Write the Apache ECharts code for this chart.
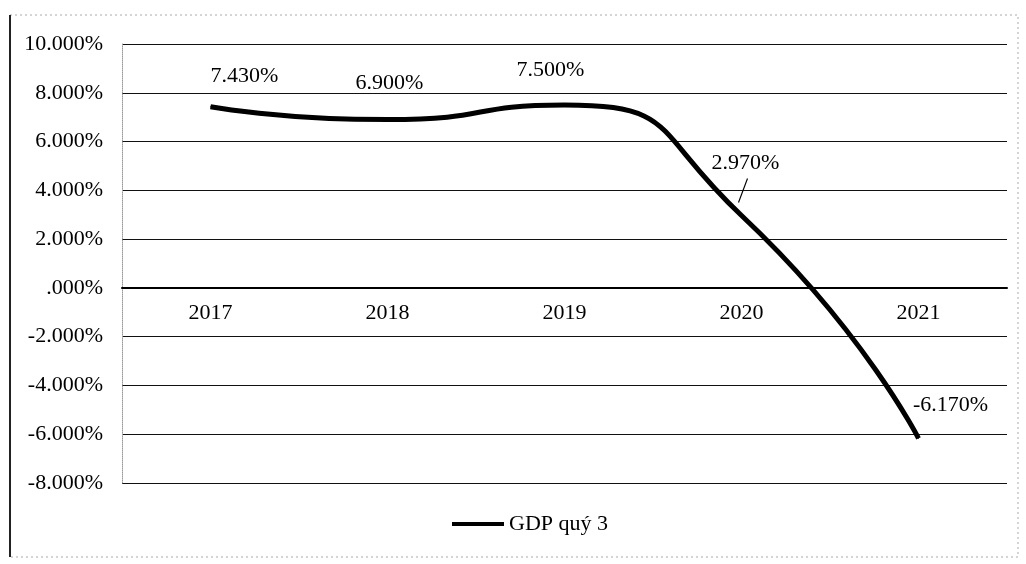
<!DOCTYPE html>
<html>
<head>
<meta charset="utf-8">
<script src="https://cdn.jsdelivr.net/npm/echarts@6/dist/echarts.min.js"></script>
<style>
html,body{margin:0;padding:0;background:#fff;}
#chart{width:1026px;height:564px;}
</style>
</head>
<body>
<div id="chart"></div>
<script>
// ---- data ----
var years = ['2017', '2018', '2019', '2020', '2021'];
var gdpQ3 = [7.43, 6.90, 7.50, 2.97, -6.17];
var seriesName = 'GDP quý 3';
var yTickValues = [-8, -6, -4, -2, 0, 2, 4, 6, 8, 10];
var yTickLabels = ['-8.000%', '-6.000%', '-4.000%', '-2.000%', '.000%', '2.000%', '4.000%', '6.000%', '8.000%', '10.000%'];

// ---- label placement (style only) ----
var labelOffsets = [[34, -14], [2, -20], [-14, -18], [4, -36], [-11, -33]];
var labelPositions = ['top', 'top', 'top', 'top', 'right'];
var FONT = 'Liberation Serif';
var FS = 22;

var dataItems = gdpQ3.map(function (v, i) {
  return { value: v, label: { position: labelPositions[i], offset: labelOffsets[i] } };
});

var frame = [
  { type: 'rect', shape: { x: 10, y: 15, width: 1008, height: 542 }, style: { fill: 'none', stroke: '#aaa', lineWidth: 1, lineDash: [2, 3] }, z: 0 },
  { type: 'line', shape: { x1: 10, y1: 15, x2: 10, y2: 557 }, style: { stroke: '#222', lineWidth: 2 }, z: 1 }
];

var chart = echarts.init(document.getElementById('chart'), null, { renderer: 'canvas' });
chart.setOption({
  backgroundColor: '#fff',
  animation: false,
  graphic: frame,
  grid: { left: 122, right: 19, top: 44, bottom: 81, containLabel: false },
  legend: {
    bottom: 24,
    left: 447,
    icon: 'rect',
    itemWidth: 52,
    itemHeight: 4,
    itemGap: 10,
    textStyle: { fontFamily: FONT, fontSize: FS, color: '#000' },
    data: [seriesName]
  },
  xAxis: {
    type: 'category',
    data: years,
    boundaryGap: true,
    offset: -195,
    axisLine: { onZero: false, lineStyle: { color: '#000', width: 2 } },
    axisTick: { show: false },
    axisLabel: { color: '#000', fontFamily: FONT, fontSize: FS, margin: 14 },
    splitLine: { show: false }
  },
  yAxis: {
    type: 'value',
    min: -8,
    max: 10,
    interval: 2,
    axisLine: { show: true, onZero: false, lineStyle: { color: '#999', width: 1, type: 'dotted' } },
    axisTick: { show: false },
    axisLabel: {
      color: '#000', fontFamily: FONT, fontSize: FS, margin: 19,
      formatter: function (v) {
        var idx = yTickValues.indexOf(Math.round(v));
        return idx >= 0 ? yTickLabels[idx] : '';
      }
    },
    splitLine: { show: true, lineStyle: { color: '#111', width: 1.2 } }
  },
  series: [{
    name: seriesName,
    type: 'line',
    data: dataItems,
    smooth: 0.6,
    symbol: 'circle',
    symbolSize: 1,
    showSymbol: true,
    lineStyle: { color: '#000', width: 5 },
    itemStyle: { color: '#000' },
    label: {
      show: true,
      color: '#000',
      fontFamily: FONT,
      fontSize: FS,
      formatter: function (p) { return gdpQ3[p.dataIndex].toFixed(3) + '%'; }
    },
    z: 3
  }]
});

// leader line for the 2020 label, anchored via the chart's own scales
var p20 = chart.convertToPixel({ seriesIndex: 0 }, [3, gdpQ3[3]]);
chart.setOption({
  graphic: frame.concat([
    { type: 'line', shape: { x1: p20[0] + 6, y1: p20[1] - 37, x2: p20[0] - 3, y2: p20[1] - 13 }, style: { stroke: '#000', lineWidth: 1.2 }, z: 5 }
  ])
});
</script>
</body>
</html>
